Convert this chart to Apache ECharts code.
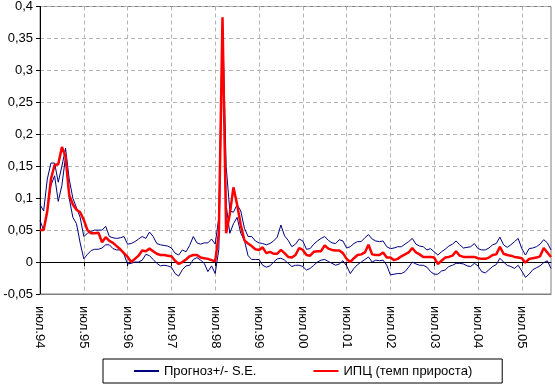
<!DOCTYPE html>
<html>
<head>
<meta charset="utf-8">
<script src="https://cdn.jsdelivr.net/npm/echarts@6/dist/echarts.min.js"></script>
<style>
  html, body { margin: 0; padding: 0; background: #fff; }
  #chart { width: 555px; height: 385px; }
</style>
</head>
<body>
<div id="chart"></div>
<script>
// Month names (Russian abbreviations) and start of the series: July 1994
var monthNames = ['янв','фев','мар','апр','май','июн','июл','авг','сен','окт','ноя','дек'];
var startYear = 1994;
var startMonth = 6; // July

// ИПЦ (темп прироста) — monthly CPI growth rate
var cpi = [
  0.05,0.05,0.08,0.13,0.152,0.153,0.18,0.165,0.105,0.09,
  0.082,0.078,0.066,0.05,0.045,0.045,0.046,0.031,0.039,0.033,
  0.03,0.025,0.02,0.014,0.008,0.0,0.005,0.01,0.018,0.017,
  0.021,0.017,0.013,0.011,0.011,0.01,0.009,0.002,-0.003,0.0,
  0.004,0.009,0.011,0.011,0.007,0.006,0.005,0.003,0.001,0.045,
  0.383,0.045,0.075,0.117,0.09,0.058,0.034,0.029,0.025,0.02,
  0.019,0.023,0.014,0.016,0.013,0.013,0.019,0.014,0.008,0.007,
  0.011,0.022,0.019,0.011,0.01,0.016,0.017,0.017,0.026,0.021,
  0.019,0.018,0.018,0.014,0.005,0.0,0.006,0.011,0.012,0.015,
  0.027,0.012,0.011,0.011,0.015,0.007,0.007,0.003,0.005,0.009,
  0.012,0.015,0.022,0.015,0.012,0.008,0.008,0.008,0.007,-0.003,
  0.002,0.007,0.008,0.01,0.017,0.01,0.008,0.008,0.008,0.008,
  0.006,0.005,0.005,0.007,0.011,0.012,0.024,0.013,0.011,0.01,
  0.008,0.007,0.006,-0.001,0.005,0.006,0.007,0.009,0.022,0.015,
  0.008
];

// Прогноз + S.E. (upper band)
var forecastUpper = [
  0.09,0.08,0.13,0.155,0.155,0.125,0.15,0.178,0.13,0.1,
  0.085,0.07,0.04,0.045,0.048,0.05,0.05,0.05,0.056,0.04,
  0.038,0.037,0.038,0.04,0.028,0.029,0.032,0.036,0.04,0.037,
  0.047,0.04,0.029,0.027,0.026,0.025,0.022,0.014,0.011,0.019,
  0.016,0.026,0.04,0.03,0.028,0.03,0.03,0.036,0.028,0.07,
  0.38,0.15,0.08,0.078,0.09,0.08,0.053,0.04,0.04,0.033,
  0.03,0.029,0.027,0.029,0.033,0.039,0.058,0.041,0.034,0.024,
  0.028,0.036,0.033,0.02,0.021,0.028,0.033,0.037,0.04,0.034,
  0.03,0.029,0.035,0.033,0.022,0.024,0.029,0.032,0.032,0.038,
  0.043,0.036,0.033,0.032,0.033,0.024,0.021,0.022,0.024,0.024,
  0.028,0.032,0.037,0.028,0.025,0.024,0.019,0.021,0.016,0.011,
  0.016,0.02,0.025,0.028,0.033,0.027,0.022,0.023,0.024,0.029,
  0.021,0.019,0.019,0.022,0.027,0.029,0.039,0.027,0.023,0.027,
  0.032,0.037,0.021,0.011,0.021,0.022,0.024,0.028,0.035,0.03,
  0.019
];

// Прогноз - S.E. (lower band)
var forecastLower = [
  0.065,0.05,0.08,0.12,0.135,0.095,0.12,0.165,0.1,0.07,
  0.06,0.03,0.005,0.012,0.018,0.02,0.02,0.022,0.027,0.027,
  0.021,0.019,0.019,0.012,-0.003,-0.002,0.0,0.0,0.003,0.012,
  0.01,0.004,-0.002,-0.006,-0.005,-0.006,-0.008,-0.018,-0.022,-0.012,
  -0.006,-0.005,0.004,0.007,0.003,-0.002,-0.015,-0.006,-0.018,0.02,
  0.35,0.09,0.045,0.06,0.07,0.045,0.034,0.01,0.004,0.004,
  0.004,-0.005,-0.008,-0.006,0.0,0.005,0.006,0.003,-0.002,-0.007,
  -0.005,-0.005,-0.007,-0.0125,-0.01,-0.005,0.0,0.003,0.004,0.001,
  -0.002,-0.005,-0.003,0.002,-0.006,-0.018,-0.01,-0.004,0.0,0.004,
  0.008,0.0,0.003,0.002,0.003,-0.005,-0.02,-0.019,-0.018,-0.018,
  -0.015,-0.008,0.0,-0.003,-0.005,-0.005,-0.008,-0.015,-0.019,-0.019,
  -0.014,-0.0125,-0.007,-0.005,-0.002,-0.002,-0.003,-0.006,-0.007,-0.002,
  -0.006,-0.015,-0.017,-0.012,-0.007,-0.004,0.006,0.0,-0.005,-0.007,
  -0.01,-0.005,-0.014,-0.024,-0.019,-0.012,-0.009,-0.006,-0.001,0.002,
  -0.01
];

// Y axis tick values
var yMin = -0.05, yMax = 0.4, yStep = 0.05;

var seriesNames = ['Прогноз+/- S.E.', 'ИПЦ (темп прироста)'];

var categories = [];
for (var i = 0; i < cpi.length; i++) {
  var m = (startMonth + i) % 12;
  var y = startYear + Math.floor((startMonth + i) / 12);
  categories.push(monthNames[m] + '.' + String(y).slice(2));
}

var FONT = 'Liberation Sans, Arial, sans-serif';
var every12 = function (idx) { return idx % 12 === 0; };

var chart = echarts.init(document.getElementById('chart'), null, { renderer: 'canvas' });
chart.setOption({
  animation: false,
  backgroundColor: '#ffffff',
  grid: {
    left: 40, right: 4, top: 6, bottom: 91,
    show: true, borderColor: '#808080', borderWidth: 1, backgroundColor: 'transparent'
  },
  legend: {
    data: seriesNames,
    left: 103, top: 359,
    padding: [5, 30, 5, 30],
    itemGap: 56,
    itemWidth: 25, itemHeight: 14,
    borderColor: '#000', borderWidth: 1,
    itemStyle: { opacity: 0 },
    textStyle: { fontFamily: FONT, fontSize: 13, color: '#000', lineHeight: 14 }
  },
  xAxis: [{
    type: 'category',
    data: categories,
    boundaryGap: false,
    position: 'bottom',
    axisLine: { show: true, onZero: true, lineStyle: { color: '#000', width: 1 } },
    axisTick: { show: true, inside: false, length: 4, interval: every12, lineStyle: { color: '#000' } },
    axisLabel: { show: false },
    splitLine: { show: true, interval: every12, lineStyle: { color: '#b4b4b4', type: [4, 3], width: 1 } }
  }, {
    type: 'category',
    data: categories,
    boundaryGap: false,
    position: 'bottom',
    axisLine: { show: true, onZero: false, lineStyle: { color: '#808080', width: 1 } },
    axisTick: { show: false },
    axisLabel: {
      show: true, interval: every12, rotate: -90, margin: 12,
      fontFamily: FONT, fontSize: 13, color: '#000',
      padding: [0, 0, 7, 0]
    },
    splitLine: { show: false }
  }],
  yAxis: {
    type: 'value',
    min: yMin, max: yMax, interval: yStep,
    axisLine: { show: true, lineStyle: { color: '#000', width: 1 } },
    axisTick: { show: true, inside: false, length: 4, lineStyle: { color: '#000' } },
    axisLabel: {
      margin: 7, fontFamily: FONT, fontSize: 13, color: '#000',
      formatter: function (v) { return String(+v.toFixed(2)).replace('.', ','); }
    },
    splitLine: { show: true, lineStyle: { color: '#b4b4b4', type: [4, 3], width: 1 } }
  },
  series: [{
    name: seriesNames[0], type: 'line', data: forecastUpper, xAxisIndex: 0,
    symbol: 'none', showSymbol: false,
    lineStyle: { color: '#000080', width: 1 }, itemStyle: { color: '#000080' }, z: 2
  }, {
    name: seriesNames[0], type: 'line', data: forecastLower, xAxisIndex: 0,
    symbol: 'none', showSymbol: false,
    lineStyle: { color: '#000080', width: 1 }, itemStyle: { color: '#000080' }, z: 2
  }, {
    name: seriesNames[1], type: 'line', data: cpi, xAxisIndex: 0,
    symbol: 'none', showSymbol: false,
    lineStyle: { color: '#ff0000', width: 2.5 }, itemStyle: { color: '#ff0000' }, z: 3
  }]
});
</script>
</body>
</html>
